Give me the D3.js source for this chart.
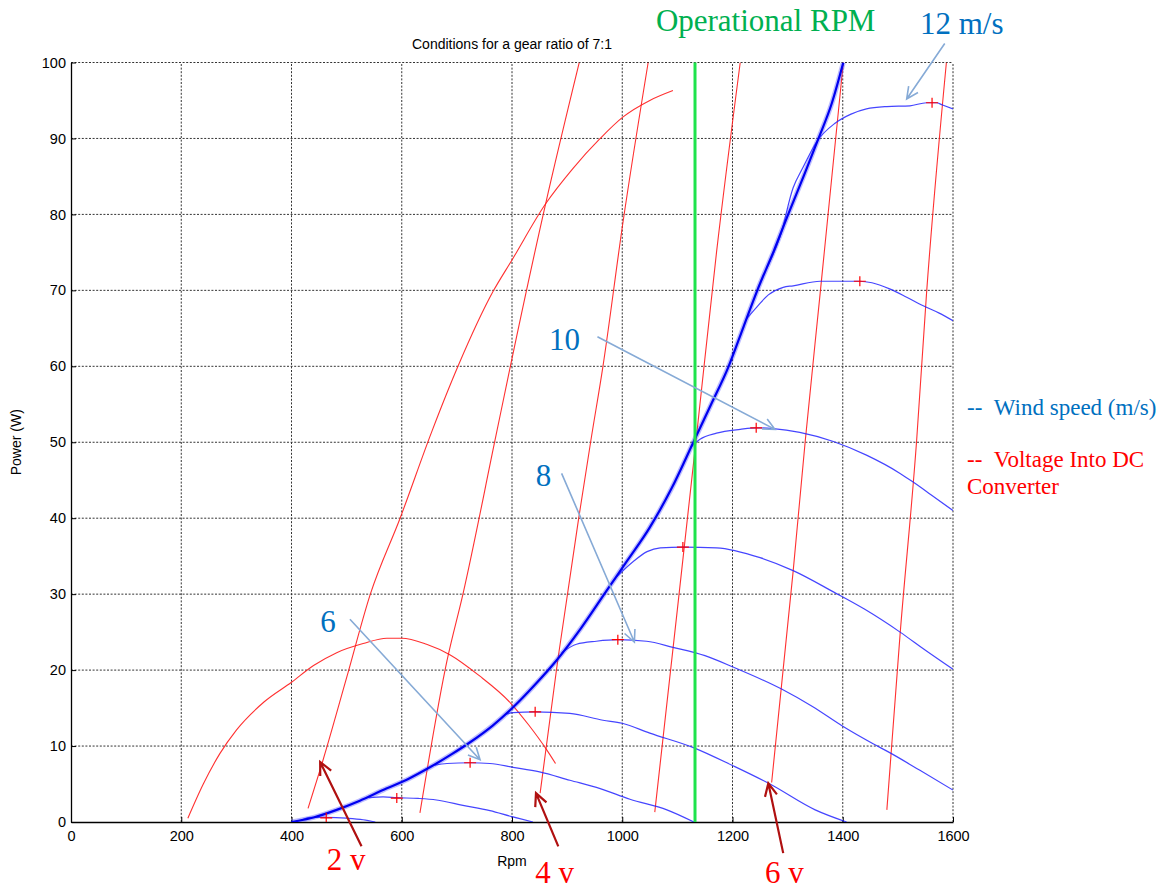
<!DOCTYPE html>
<html>
<head>
<meta charset="utf-8">
<script src="https://cdn.jsdelivr.net/npm/d3@7"></script>
<style>
  body { margin: 0; background: #fff; }
  svg { display: block; }
  .serif { font-family: "Liberation Serif", "Times New Roman", serif; }
</style>
</head>
<body>
<svg id="chart" width="1172" height="890"></svg>
<script>
// ---- data (rpm, W) ----
const rpmTicks = [0, 200, 400, 600, 800, 1000, 1200, 1400, 1600];
const powerTicks = [0, 10, 20, 30, 40, 50, 60, 70, 80, 90, 100];
const operationalRpm = 1132;

const windSpeeds = [4, 5, 6, 7, 8, 9, 10, 11, 12];
const windCurves = [
    [[420, 0.3], [434, 0.6], [463, 0.6], [500, 0.5], [530, 0.3], [552, 0]],
    [[540, 3.2], [566, 3.3], [591, 3.2], [630, 3.1], [663, 2.9], [711, 2.2], [760, 1.5], [800, 0.7], [838, 0]],
    [[660, 7.5], [682, 7.7], [724, 7.8], [760, 7.7], [802, 7.2], [850, 6.6], [905, 5.5], [960, 4.4], [1014, 3.0], [1081, 1.6], [1130, 0]],
    [[790, 14.2], [802, 14.4], [842, 14.5], [905, 14.3], [965, 13.4], [1000, 13.0], [1050, 11.7], [1129, 9.8], [1201, 7.4], [1268, 5.0], [1350, 1.6], [1407, 0]],
    [[890, 22.3], [917, 23.4], [953, 23.8], [992, 24.0], [1044, 23.8], [1092, 23.0], [1150, 21.9], [1201, 20.4], [1289, 17.5], [1345, 15.2], [1400, 12.6], [1455, 10.3], [1486, 9.1], [1540, 6.8], [1600, 4.2]],
    [[990, 32.3], [1020, 34.3], [1045, 35.6], [1069, 36.1], [1110, 36.2], [1171, 36.1], [1250, 34.8], [1310, 33.1], [1383, 30.3], [1440, 28.0], [1504, 25.0], [1550, 22.6], [1600, 20.1]],
    [[1125, 49.4], [1141, 50.4], [1171, 51.2], [1214, 51.7], [1243, 51.9], [1274, 51.8], [1322, 51.3], [1383, 50.1], [1443, 48.3], [1504, 45.9], [1527, 44.8], [1560, 43.1], [1600, 41.0]],
    [[1225, 66.2], [1244, 67.8], [1265, 69.4], [1292, 70.4], [1310, 70.6], [1359, 71.2], [1431, 71.2], [1453, 71.0], [1485, 70.2], [1516, 69.1], [1545, 68.0], [1575, 67.0], [1600, 66.0]],
    [[1262, 72.9], [1286, 77.0], [1310, 83.5], [1328, 86.2], [1353, 89.6], [1386, 92.0], [1415, 93.2], [1443, 93.9], [1480, 94.2], [1522, 94.3], [1552, 94.7], [1570, 94.7], [1581, 94.4], [1600, 93.9]],
];

// rising part shared by all wind curves (drawn as a thick bundle)
const riseBundle = [
    [400, 0], [440, 0.6], [482, 1.6], [524, 2.8], [566, 4.2], [610, 5.6], [651, 7.2], [690, 8.9],
    [724, 10.5], [765, 12.7], [802, 15.1], [842, 18.1], [881, 21.3], [925, 25.5], [972, 30.5],
    [1010, 34.5], [1050, 38.8], [1090, 44.0], [1129, 50], [1160, 54.8], [1193, 60], [1220, 65.2],
    [1245, 70], [1275, 75.2], [1301, 80], [1330, 85.2], [1356, 90], [1380, 94.6], [1401, 100],
];

const mppMarkers = [[463, 0.55], [591, 3.15], [724, 7.8], [842, 14.5], [992, 24.0], [1110, 36.2], [1243, 51.9], [1431, 71.2], [1562, 94.7]];

const voltageCurves = [
    [[212, 0.5], [240, 5], [270, 9], [300, 12.1], [350, 15.8], [400, 18.4], [440, 20.6], [482, 22.3], [530, 23.5], [573, 24.2], [600, 24.2], [645, 23.4], [688, 22.0], [740, 19.3], [797, 15.7], [830, 12.8], [863, 9.5], [879, 7.7]],
    [[430, 1.8], [457, 8.1], [500, 19], [543, 30], [597, 40], [655, 51.5], [702, 60], [766, 69.9], [800, 74], [861, 81.4], [910, 86], [960, 90], [1001, 92.8], [1050, 95], [1092, 96.3]],
    [[633, 1.2], [682, 21.2], [711, 30], [769, 50.2], [797, 60], [861, 81.4], [922, 100]],
    [[851, 3.8], [883, 21.3], [921, 40], [943, 50.2], [965, 60], [1001, 78.8], [1047, 100]],
    [[1059, 1.3], [1100, 28], [1135, 51], [1171, 75], [1214, 100]],
    [[1271, 5.2], [1310, 33], [1332, 50.2], [1359, 69.6], [1401, 100]],
    [[1480, 1.6], [1504, 24.7], [1534, 50.2], [1552, 69.6], [1588, 100]],
];

// annotations: [label, textAt, arrowFrom, arrowTo]
const windNotes = [
    ["12 m/s", [1540, 103.8], [1585, 102.5], [1516, 95.2]],
    ["10", [867, 62.2], [955, 63.9], [1277, 51.7]],
    ["8", [843, 44.3], [890, 45.9], [1022, 23.7]],
    ["6", [452, 25], [506, 26.7], [742, 8.2]],
];
const voltNotes = [
    ["2 v", [464, -6.3], [527, -3.2], [452, 7.9]],
    ["4 v", [842, -8], [884, -3.2], [843.5, 3.8]],
    ["6 v", [1259, -8], [1292, -4.1], [1265, 5.1]],
];

// ---- drawing ----
const svg = d3.select("#chart");
const x = d3.scaleLinear().domain([0, 1600]).range([71, 953]);
const y = d3.scaleLinear().domain([0, 100]).range([822, 62.5]);

const line = d3.line()
    .x((d) => x(d[0]))
    .y((d) => y(d[1]))
    .curve(d3.curveMonotoneX);

svg.append("defs").append("clipPath").attr("id", "plot")
    .append("rect")
    .attr("x", x(0)).attr("y", y(100))
    .attr("width", x(1600) - x(0)).attr("height", y(0) - y(100));

// grid
const grid = svg.append("g").attr("stroke", "#333").attr("stroke-width", 1).attr("stroke-dasharray", "2,1.6");
grid.selectAll("line.v").data(rpmTicks.filter((d) => d > 0)).join("line")
    .attr("x1", (d) => x(d)).attr("x2", (d) => x(d))
    .attr("y1", y(0)).attr("y2", y(100));
grid.selectAll("line.h").data(powerTicks.filter((d) => d > 0)).join("line")
    .attr("x1", x(0)).attr("x2", x(1600))
    .attr("y1", (d) => y(d)).attr("y2", (d) => y(d));

// axes
const xAxis = svg.append("g")
    .attr("transform", `translate(0,${y(0)})`)
    .call(d3.axisBottom(x).tickValues(rpmTicks).tickFormat(d3.format("d"))
        .tickSizeInner(-5).tickSizeOuter(0).tickPadding(9));
const yAxis = svg.append("g")
    .attr("transform", `translate(${x(0)},0)`)
    .call(d3.axisLeft(y).tickValues(powerTicks).tickFormat(d3.format("d"))
        .tickSizeInner(-5).tickSizeOuter(0).tickPadding(5));
[xAxis, yAxis].forEach((g) => {
    g.attr("font-family", "Liberation Sans, Arial, sans-serif").attr("font-size", 14.5);
    g.select(".domain").attr("stroke", "#000").attr("stroke-width", 1.3);
    g.selectAll(".tick line").attr("stroke", "#000");
});

const plot = svg.append("g").attr("clip-path", "url(#plot)");

// voltage lines
plot.selectAll("path.volt").data(voltageCurves).join("path")
    .attr("class", "volt")
    .attr("d", line)
    .attr("fill", "none")
    .attr("stroke", "#ff1a1a")
    .attr("stroke-width", 1.1)
    .attr("stroke-opacity", 0.9);

// wind speed curves
plot.selectAll("path.wind").data(windCurves).join("path")
    .attr("class", "wind")
    .attr("d", line)
    .attr("fill", "none")
    .attr("stroke", "#2525ff")
    .attr("stroke-width", 1.2)
    .attr("stroke-opacity", 0.85);

// thick rising bundle
plot.append("path").datum(riseBundle)
    .attr("d", line).attr("fill", "none")
    .attr("stroke", "#4040ff").attr("stroke-width", 5).attr("stroke-opacity", 0.35);
plot.append("path").datum(riseBundle)
    .attr("d", line).attr("fill", "none")
    .attr("stroke", "#0000f0").attr("stroke-width", 2.2);

// max power markers
plot.selectAll("path.mpp").data(mppMarkers).join("path")
    .attr("class", "mpp")
    .attr("d", (d) => `M${x(d[0]) - 6},${y(d[1])}h12M${x(d[0])},${y(d[1]) - 5}v10`)
    .attr("stroke", "#ff0000").attr("stroke-width", 1.2);

// operational rpm
svg.append("line")
    .attr("x1", x(operationalRpm)).attr("x2", x(operationalRpm))
    .attr("y1", y(0)).attr("y2", y(100))
    .attr("stroke", "#1ee34c").attr("stroke-width", 3);

svg.append("text").attr("class", "serif")
    .attr("x", x(1061)).attr("y", y(104.2))
    .attr("fill", "#00b050").attr("font-size", 31)
    .text("Operational RPM");

// labels
svg.append("text")
    .attr("x", (x(0) + x(1600)) / 2).attr("y", 49)
    .attr("text-anchor", "middle")
    .attr("font-family", "Liberation Sans, Arial, sans-serif").attr("font-size", 14)
    .text("Conditions for a gear ratio of 7:1");
svg.append("text")
    .attr("x", (x(0) + x(1600)) / 2).attr("y", 866)
    .attr("text-anchor", "middle")
    .attr("font-family", "Liberation Sans, Arial, sans-serif").attr("font-size", 14)
    .text("Rpm");
svg.append("text")
    .attr("transform", `translate(21,${(y(0) + y(100)) / 2}) rotate(-90)`)
    .attr("text-anchor", "middle")
    .attr("font-family", "Liberation Sans, Arial, sans-serif").attr("font-size", 14)
    .text("Power (W)");

const drawArrow = (g, from, to, color, width, head) => {
    const [x1, y1] = [x(from[0]), y(from[1])];
    const [x2, y2] = [x(to[0]), y(to[1])];
    const ang = Math.atan2(y2 - y1, x2 - x1);
    const a1 = ang + Math.PI - 0.45, a2 = ang + Math.PI + 0.45;
    g.append("path")
        .attr("d", `M${x1},${y1}L${x2},${y2}` +
            `M${x2 + head * Math.cos(a1)},${y2 + head * Math.sin(a1)}L${x2},${y2}` +
            `L${x2 + head * Math.cos(a2)},${y2 + head * Math.sin(a2)}`)
        .attr("fill", "none")
        .attr("stroke", color)
        .attr("stroke-width", width)
        .attr("stroke-linejoin", "miter");
};

const notes = svg.append("g");
windNotes.forEach(([label, at, from, to]) => {
    drawArrow(notes, from, to, "#86aad6", 1.6, 13);
    notes.append("text").attr("class", "serif")
        .attr("x", x(at[0])).attr("y", y(at[1]))
        .attr("fill", "#0070c0").attr("font-size", 31)
        .text(label);
});
voltNotes.forEach(([label, at, from, to]) => {
    drawArrow(notes, from, to, "#b01010", 2.2, 14);
    notes.append("text").attr("class", "serif")
        .attr("x", x(at[0])).attr("y", y(at[1]))
        .attr("fill", "#ff0000").attr("font-size", 31)
        .text(label);
});

// legend text on the right
const legendX = x(1600) + 14;
const legend = svg.append("g").attr("class", "serif").attr("font-size", 23);
legend.append("text").attr("x", legendX).attr("y", 415).attr("fill", "#0070c0").text("--\u00a0\u00a0Wind speed (m/s)");
legend.append("text").attr("x", legendX).attr("y", 467).attr("fill", "#ff0000").text("--\u00a0\u00a0Voltage Into DC");
legend.append("text").attr("x", legendX).attr("y", 494).attr("fill", "#ff0000").text("Converter");
</script>
</body>
</html>
